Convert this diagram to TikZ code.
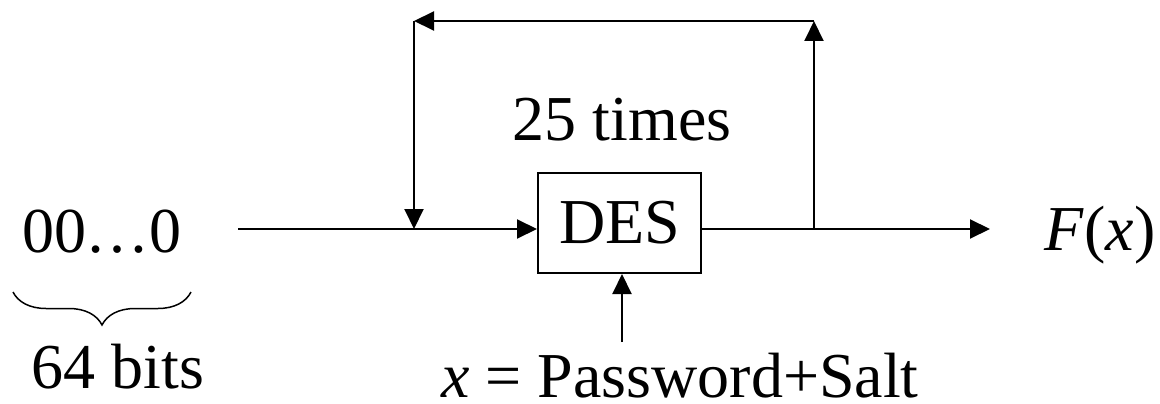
\documentclass[tikz,border=0pt]{standalone}
\usepackage{fontspec}
\setmainfont{Liberation Serif}
\usetikzlibrary{arrows.meta,decorations.pathreplacing}
\begin{document}
\begin{tikzpicture}[x=1pt,y=-1pt,
  line width=2pt,
  arr/.style={-{Triangle[length=20pt,width=19pt]}},
  lbl/.style={inner sep=0pt,anchor=base,font=\fontsize{64}{77}\selectfont}]
\useasboundingbox (0,0) rectangle (1160,404);
\node[draw,line width=2pt,minimum width=163pt,minimum height=100pt,inner sep=0pt,
      font=\fontsize{64}{77}\selectfont] (des) at (619.5,223) {DES};
\node[lbl] (zeros) at (102,252) {00…0};
\node[lbl] (bits) at (118,388) {64 bits};
\node[lbl] (times) at (622,140) {25 times};
\node[lbl] (fx) at (1100,250) {\textit{F}(\textit{x})};
\node[lbl] (pw) at (680,397) {\textit{x} = Password+Salt};
\coordinate (start) at (238,229);
\coordinate (j1) at (414,229);
\coordinate (j2) at (814,229);
\coordinate (tl) at (414,21);
\coordinate (tr) at (814,21);
\coordinate (outend) at (990,229);
\coordinate (pin) at (622,342);
\draw[arr] (start) -- (start -| des.west);
\draw[arr] (des.east |- outend) -- (outend);
\draw[arr] (j2) -- (tr);
\draw[arr] (tr) -- (tl);
\draw[arr] (tl) -- (j1);
\draw[arr] (pin) -- (pin |- des.south);
\draw[line width=1.5pt,decorate,decoration={brace,mirror,amplitude=33pt}] (13,292) -- (191,292);
\end{tikzpicture}
\end{document}
